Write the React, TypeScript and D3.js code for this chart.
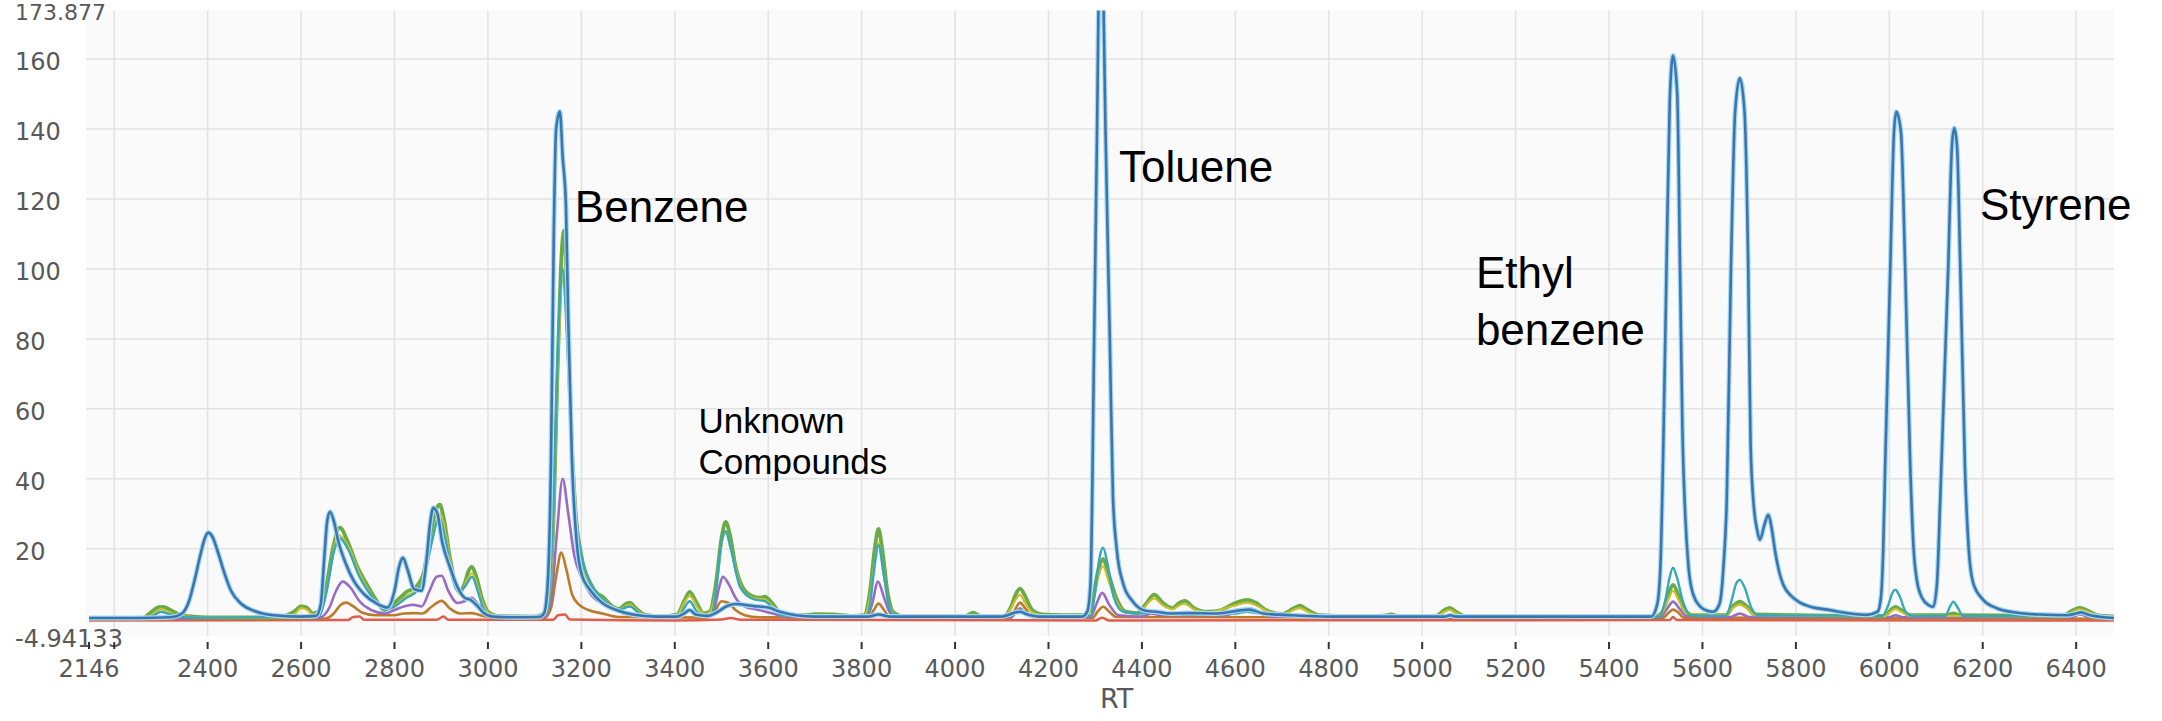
import React from "react";
import * as d3 from "d3";

type Pt = [number, number];

const RT_MIN = 2146;
const RT_MAX = 6481;
const Y_MIN = -4.94133;
const Y_MAX = 173.877;

const RT_TICKS = [2146, 2200, 2400, 2600, 2800, 3000, 3200, 3400, 3600, 3800, 4000, 4200, 4400, 4600, 4800, 5000, 5200, 5400, 5600, 5800, 6000, 6200, 6400];
const RT_GRID = [2200, 2400, 2600, 2800, 3000, 3200, 3400, 3600, 3800, 4000, 4200, 4400, 4600, 4800, 5000, 5200, 5400, 5600, 5800, 6000, 6200, 6400];
const RT_LABELS = ["2146", "", "2400", "2600", "2800", "3000", "3200", "3400", "3600", "3800", "4000", "4200", "4400", "4600", "4800", "5000", "5200", "5400", "5600", "5800", "6000", "6200", "6400"];
const Y_TICKS = [20, 40, 60, 80, 100, 120, 140, 160];
const X_TITLE = "RT";

const blue: Pt[] = [[2146,0.2],[2250,0.2],[2320,0.4],[2345,1.5],[2360,5],[2372,11],[2384,18],[2394,23],[2401,24.6],[2410,23.5],[2422,19],[2436,13],[2450,8],[2470,4.5],[2500,2.2],[2540,1],[2600,0.6],[2632,0.8],[2642,4],[2650,18],[2656,28],[2662,30.6],[2670,28],[2680,22],[2695,16],[2712,11],[2735,7],[2760,4.5],[2785,3.2],[2800,8],[2810,15],[2818,17.4],[2828,14],[2842,8.5],[2858,8],[2868,16],[2876,27],[2883,31.7],[2892,30],[2902,22],[2918,15],[2935,9],[2950,6],[2963,5.4],[2975,4],[2990,1.8],[3010,0.6],[3060,0.4],[3110,0.5],[3120,1.5],[3128,10],[3135,45],[3141,110],[3146,140],[3154,145],[3160,132],[3167,118],[3172,85],[3180,45],[3190,22],[3200,13],[3220,8],[3245,4.5],[3275,2.5],[3310,1.2],[3360,0.6],[3405,0.6],[3420,1.5],[3432,2.5],[3445,1.2],[3470,0.8],[3490,1.8],[3510,3.5],[3530,4.2],[3570,3.6],[3600,3.2],[3625,2],[3660,1],[3700,0.6],[3815,0.6],[3836,1.2],[3860,0.6],[4100,0.6],[4125,1.6],[4139,2],[4155,1.2],[4180,0.6],[4272,0.6],[4283,2],[4290,10],[4298,82],[4304,140],[4307,174],[4312,210],[4318,174],[4322,140],[4331,82],[4338,35],[4346,20],[4360,10],[4380,5],[4410,2.2],[4430,2],[4460,1.5],[4500,1.6],[4560,1.5],[4630,2.6],[4660,1.5],[4720,1],[4800,0.6],[5048,0.6],[5060,1],[5072,0.6],[5490,0.6],[5503,4],[5510,15],[5516,48],[5523,100],[5530,148],[5537,161],[5546,150],[5552,100],[5557,55],[5563,30],[5570,15],[5580,7],[5595,3.5],[5610,2.3],[5623,2],[5632,3],[5638,5],[5645,15],[5652,34],[5661,100],[5670,145],[5680,154.6],[5690,145],[5698,100],[5703,50],[5710,32],[5717,25.4],[5723,22.6],[5733,27],[5741,29.7],[5748,26],[5755,19.7],[5765,13],[5773,9.7],[5790,6.5],[5809,4.6],[5835,3.3],[5867,2.6],[5910,1.6],[5952,1.1],[5975,2],[5982,6],[5987,20],[5991,43],[6002,100],[6010,139],[6015,144.9],[6025,139],[6034,100],[6045,43],[6052,20],[6059,11],[6070,6],[6085,3.8],[6094,3.4],[6102,10],[6109,34],[6126,100],[6134,135],[6139,140.3],[6145,135],[6152,100],[6162,43],[6170,20],[6180,10],[6201,5.4],[6230,3],[6274,1.7],[6320,1.2],[6381,1],[6400,1.5],[6410,1.8],[6430,1],[6481,0.2]];

const green: Pt[] = [[2146,0],[2260,0.2],[2280,2],[2295,3.3],[2305,3.4],[2320,2.5],[2340,1.2],[2370,0.6],[2400,0.4],[2550,0.4],[2585,2],[2600,3.5],[2612,3.2],[2625,1.5],[2640,2.5],[2655,10],[2668,20],[2683,26],[2700,22],[2720,15],[2740,10],[2760,5.5],[2778,2.5],[2795,4],[2812,6],[2826,7.7],[2845,9],[2862,13],[2878,25],[2890,31.5],[2897,32.6],[2905,29],[2918,18],[2930,10],[2940,7.7],[2950,10],[2958,13.5],[2966,14.8],[2975,12],[2988,5.5],[3000,2],[3020,0.8],[3100,0.6],[3125,2],[3138,20],[3150,75],[3158,105],[3163,111],[3170,90],[3178,55],[3188,30],[3200,18],[3220,10],[3236,7],[3246,6.3],[3262,4],[3280,2.8],[3295,4.2],[3304,4.6],[3315,3.2],[3335,1.2],[3370,0.7],[3405,1.2],[3420,5],[3432,7.7],[3445,5],[3462,1.5],[3475,2],[3488,10],[3500,23],[3509,27.7],[3518,24],[3530,15],[3545,9],[3565,6.5],[3582,6],[3593,6.3],[3605,5],[3620,2.5],[3635,1],[3680,1],[3700,1.3],[3740,1.2],[3780,0.8],[3805,1],[3818,8],[3828,20],[3836,25.7],[3844,20],[3855,8],[3867,2],[3885,0.8],[4020,0.7],[4039,1.7],[4055,0.8],[4105,0.8],[4120,3.5],[4130,7],[4139,8.6],[4150,6.5],[4165,2.5],[4185,1.2],[4230,1],[4280,1],[4293,4],[4305,13],[4317,17],[4328,13],[4345,6],[4365,2],[4390,1.6],[4410,4.5],[4426,6.9],[4445,4.5],[4465,3],[4480,4.5],[4492,5.1],[4510,3.2],[4540,2],[4570,2.5],[4600,4.5],[4625,5.4],[4645,4.5],[4665,2.5],[4700,1.3],[4725,3],[4738,3.7],[4755,2.5],[4780,1],[4850,0.7],[4920,0.9],[4933,1.2],[4950,0.8],[5030,0.8],[5048,2.5],[5059,3.1],[5072,2],[5090,0.8],[5500,0.6],[5515,2],[5527,7],[5537,9.7],[5548,7],[5562,2.5],[5580,1],[5650,1],[5665,3.5],[5680,4.9],[5695,3.5],[5712,1.2],[5990,0.8],[6003,2.5],[6013,3.4],[6025,2.5],[6045,1],[6125,1],[6137,1.5],[6150,1],[6370,0.8],[6390,2.2],[6408,3.1],[6425,2.3],[6445,1],[6481,0.6]];

const olive: Pt[] = [[2146,0],[2270,0.2],[2285,1.5],[2300,2.8],[2315,2],[2335,0.8],[2400,0.3],[2570,0.3],[2588,1.5],[2600,3],[2612,2.6],[2625,1.2],[2645,3],[2660,12],[2680,24],[2700,21],[2725,13],[2760,5],[2780,2.5],[2800,3.5],[2826,6.5],[2845,8],[2862,11],[2880,22],[2897,30],[2910,24],[2925,12],[2940,7],[2955,11],[2966,13],[2978,9],[2990,4],[3010,1],[3100,0.5],[3125,2],[3140,25],[3152,80],[3160,97],[3170,80],[3180,48],[3195,22],[3220,9],[3246,5.5],[3280,2.5],[3295,3.6],[3304,4],[3318,2.5],[3335,1],[3405,1],[3420,4.5],[3432,6.5],[3450,3],[3465,1.3],[3475,1.8],[3490,10],[3500,21],[3509,24.5],[3520,20],[3545,8],[3570,5.8],[3593,5.5],[3610,3.5],[3630,1],[3805,0.8],[3818,6],[3828,16],[3836,21.7],[3846,14],[3858,4],[3870,1.5],[3890,0.7],[4105,0.7],[4120,3],[4130,5.5],[4139,6.8],[4150,4.5],[4165,1.8],[4185,1],[4280,0.9],[4293,3],[4305,11],[4317,15],[4328,11],[4345,5],[4365,1.8],[4395,1.5],[4410,4],[4426,5.8],[4445,3.8],[4465,2.7],[4480,3.8],[4492,4.3],[4510,2.8],[4540,1.8],[4600,3.8],[4625,4.6],[4645,3.8],[4670,2],[4700,1.2],[4725,2.5],[4738,3],[4755,2],[4780,0.9],[5030,0.7],[5048,2],[5059,2.5],[5072,1.6],[5090,0.7],[5500,0.5],[5515,2],[5527,5.5],[5537,8],[5550,5],[5565,1.5],[5650,0.9],[5665,3],[5680,4],[5695,3],[5712,1],[5990,0.7],[6003,2],[6013,2.8],[6025,2],[6045,0.8],[6370,0.7],[6390,1.8],[6408,2.7],[6425,2],[6445,0.8],[6481,0.5]];

const teal: Pt[] = [[2146,0],[2270,0.2],[2285,1],[2300,2],[2320,1.2],[2340,0.5],[2400,0.3],[2630,0.5],[2640,1],[2655,8],[2670,19],[2683,23],[2700,20],[2725,12],[2760,5],[2780,2.5],[2800,3.5],[2826,6],[2845,7.5],[2862,11],[2880,22],[2895,29],[2910,22],[2925,11],[2935,8],[2950,9],[2966,12],[2978,8],[2990,3],[3005,1],[3100,0.5],[3125,2],[3140,30],[3152,85],[3160,100],[3170,78],[3180,45],[3195,22],[3220,10],[3246,5.5],[3280,2.5],[3295,3.2],[3304,3.5],[3318,2.2],[3330,1],[3410,0.8],[3420,3],[3432,5],[3445,2.5],[3455,1.2],[3470,1],[3480,1.5],[3490,10],[3500,22],[3509,25],[3520,20],[3540,9],[3570,5.5],[3593,5],[3610,3],[3630,1],[3810,0.8],[3818,4],[3825,12],[3836,21],[3848,12],[3858,4],[3866,1.5],[3900,0.7],[4120,0.8],[4130,2],[4139,2.5],[4150,1.8],[4160,0.8],[4290,0.8],[4300,8],[4310,18],[4317,20.3],[4326,16],[4340,6],[4360,2],[4400,1.5],[4426,2],[4450,1.2],[4600,1.5],[4625,2],[4650,1.5],[4700,0.8],[5505,0.5],[5520,5],[5530,12],[5537,14.6],[5545,12],[5558,5],[5575,1],[5650,0.8],[5662,5],[5672,10],[5680,11.1],[5690,9],[5705,3],[5720,1],[5985,0.8],[5998,4],[6007,7.5],[6013,8.3],[6022,6.5],[6035,2],[6050,0.8],[6120,0.8],[6130,3.5],[6137,4.9],[6145,3.5],[6158,0.8],[6390,0.8],[6408,1.5],[6430,0.8],[6481,0.3]];

const purple: Pt[] = [[2146,0],[2640,0.3],[2660,3],[2675,8],[2689,10.6],[2705,9],[2725,5],[2750,2.5],[2780,1.5],[2800,2.5],[2820,3.5],[2839,4],[2858,3.5],[2875,8],[2890,12],[2901,12.3],[2915,8],[2935,4.5],[2950,5],[2965,6],[2980,4],[3000,1.2],[3030,0.3],[3120,0.5],[3135,5],[3148,25],[3160,40],[3172,30],[3185,18],[3200,12],[3220,7],[3250,4],[3280,2],[3320,0.8],[3400,0.4],[3420,1.5],[3432,2.5],[3445,1.2],[3470,0.6],[3485,3],[3495,9],[3503,12],[3515,10],[3530,6],[3550,3.5],[3580,2.5],[3610,1.5],[3640,0.5],[3810,0.5],[3822,4],[3835,10.6],[3848,6],[3862,1.5],[3880,0.5],[4120,0.5],[4132,2],[4139,3],[4150,1.5],[4165,0.5],[4290,0.5],[4302,4],[4315,7.4],[4330,4],[4350,1],[4400,0.6],[4420,1.5],[4440,1],[4580,1],[4610,2.5],[4630,3],[4650,2],[4680,0.6],[5510,0.5],[5525,3],[5537,4.9],[5550,3],[5565,0.8],[5660,0.5],[5680,1.5],[5700,0.5],[6000,0.4],[6013,1],[6030,0.4],[6390,0.4],[6408,1.2],[6430,0.4],[6481,0.3]];

const orange: Pt[] = [[2146,-0.1],[2650,0],[2670,1.5],[2685,4],[2697,4.6],[2712,3.5],[2730,1.8],[2760,1],[2800,1],[2820,1.5],[2840,1.6],[2860,1.5],[2880,3.5],[2901,5.1],[2918,3],[2940,1.5],[2965,1.6],[2990,0.8],[3020,0.2],[3120,0.2],[3135,3],[3146,12],[3157,18.9],[3168,14],[3180,7],[3195,4],[3215,2.5],[3245,1.5],[3280,0.5],[3470,0.3],[3485,2],[3500,5],[3515,4.5],[3530,2.5],[3550,1],[3580,0.4],[3815,0.3],[3826,2.5],[3836,4.3],[3848,2.5],[3860,0.5],[4120,0.3],[4130,3],[4139,4.6],[4150,3],[4165,0.5],[4295,0.3],[4305,2],[4317,3.4],[4330,2],[4345,0.5],[5515,0.2],[5528,1.8],[5537,2.6],[5548,1.8],[5560,0.3],[6481,0]];

const red: Pt[] = [[2146,-0.5],[2700,-0.4],[2712,0.5],[2725,0.6],[2735,-0.3],[2890,-0.3],[2905,0.6],[2915,-0.3],[3140,-0.3],[3150,1],[3165,1.2],[3175,-0.2],[3400,-0.5],[3500,-0.2],[3520,0.2],[3540,-0.3],[4300,-0.5],[4315,0.3],[4330,-0.5],[5530,-0.4],[5537,0.5],[5545,-0.4],[6481,-0.5]];

const SERIES = [
  { name: "red", data: red, color: "#e35b4b", width: 2.5 },
  { name: "orange", data: orange, color: "#bd7a28", width: 2.6 },
  { name: "purple", data: purple, color: "#9a6bc4", width: 2.6 },
  { name: "green", data: green, color: "#6aab45", width: 3.8 },
  { name: "olive", data: olive, color: "#cbbf2e", width: 2.2 },
  { name: "teal", data: teal, color: "#35a9ba", width: 2.4 },
];

const ANNOTATIONS = [
  { lines: ["Benzene"], rt: 3186, value: 113.4, big: true },
  { lines: ["Toluene"], rt: 4351, value: 124.9, big: true },
  { lines: ["Ethyl", "benzene"], rt: 5115, value: 94.6, big: true },
  { lines: ["Styrene"], rt: 6194, value: 114, big: true },
  { lines: ["Unknown", "Compounds"], rt: 3451, value: 53.1, big: false },
];

export default function App() {
  const W = 2162;
  const H = 721;
  const x = d3.scaleLinear().domain([RT_MIN, RT_MAX]).range([89, 2114]);
  const y = d3.scaleLinear().domain([Y_MIN, Y_MAX]).range([636, 10.5]);
  const line = d3
    .line<Pt>()
    .x((d) => x(d[0]))
    .y((d) => y(d[1]))
    .curve(d3.curveMonotoneX);

  const x0 = x(RT_MIN);
  const x1 = x(RT_MAX);
  const yTop = y(Y_MAX);
  const yBot = y(Y_MIN);
  const axisFont = "'DejaVu Sans', sans-serif";
  const labelColor = "#585858";

  return (
    <svg
      width={W}
      height={H}
      style={{ position: "absolute", left: 0, top: 0, background: "#ffffff", display: "block" }}
    >
      <defs>
        <clipPath id="plotclip">
          <rect x={x0} y={yTop} width={x1 - x0} height={yBot - yTop} />
        </clipPath>
      </defs>
      <rect x={x0 - 3} y={yTop} width={x1 - x0 + 3} height={yBot - yTop} fill="#fafafa" />
      {RT_GRID.map((t) => (
        <line key={"gx" + t} x1={x(t)} x2={x(t)} y1={yTop} y2={yBot} stroke="#e2e2e2" strokeWidth={1.5} />
      ))}
      {Y_TICKS.map((t) => (
        <line key={"gy" + t} x1={x0 - 3} x2={x1} y1={y(t)} y2={y(t)} stroke="#e2e2e2" strokeWidth={1.5} />
      ))}

      <g clipPath="url(#plotclip)">
        {SERIES.map((s) => (
          <path key={s.name} d={line(s.data) || ""} fill="none" stroke={s.color} strokeWidth={s.width} strokeLinejoin="round" />
        ))}
        <path d={line(blue) || ""} fill="none" stroke="#a9d8f2" strokeWidth={5} strokeLinejoin="round" />
        <path d={line(blue) || ""} fill="none" stroke="#3a76ae" strokeWidth={2.6} strokeLinejoin="round" />
      </g>

      {/* Y labels */}
      {Y_TICKS.map((t) => (
        <text key={"yl" + t} x={15} y={y(t) + 11} fontFamily={axisFont} fontSize={24} fill={labelColor}>
          {t}
        </text>
      ))}
      <text x={15} y={yBot + 11} fontFamily={axisFont} fontSize={24} fill={labelColor}>
        {String(Y_MIN)}
      </text>
      <text x={15} y={20} fontFamily={axisFont} fontSize={22} fill={labelColor}>
        {String(Y_MAX)}
      </text>

      {/* X ticks and labels */}
      {RT_TICKS.map((t, i) => (
        <g key={"xt" + t}>
          <line x1={x(t)} x2={x(t)} y1={yBot + 6} y2={yBot + 13} stroke="#333" strokeWidth={2} />
          {RT_LABELS[i] && (
            <text x={x(t)} y={yBot + 41} textAnchor="middle" fontFamily={axisFont} fontSize={24} fill={labelColor}>
              {RT_LABELS[i]}
            </text>
          )}
        </g>
      ))}
      <text x={1100} y={708} fontFamily={axisFont} fontSize={27} fill={labelColor}>
        {X_TITLE}
      </text>

      {/* Annotations */}
      {ANNOTATIONS.map((a) => (
        <text
          key={a.lines[0]}
          x={x(a.rt)}
          y={y(a.value)}
          fontFamily="'Liberation Sans', Arial, sans-serif"
          fontSize={a.big ? 44 : 35}
          fill="#000"
        >
          {a.lines.map((l, i) => (
            <tspan key={l} x={x(a.rt)} dy={i === 0 ? 0 : a.big ? 57 : 41}>
              {l}
            </tspan>
          ))}
        </text>
      ))}
    </svg>
  );
}
